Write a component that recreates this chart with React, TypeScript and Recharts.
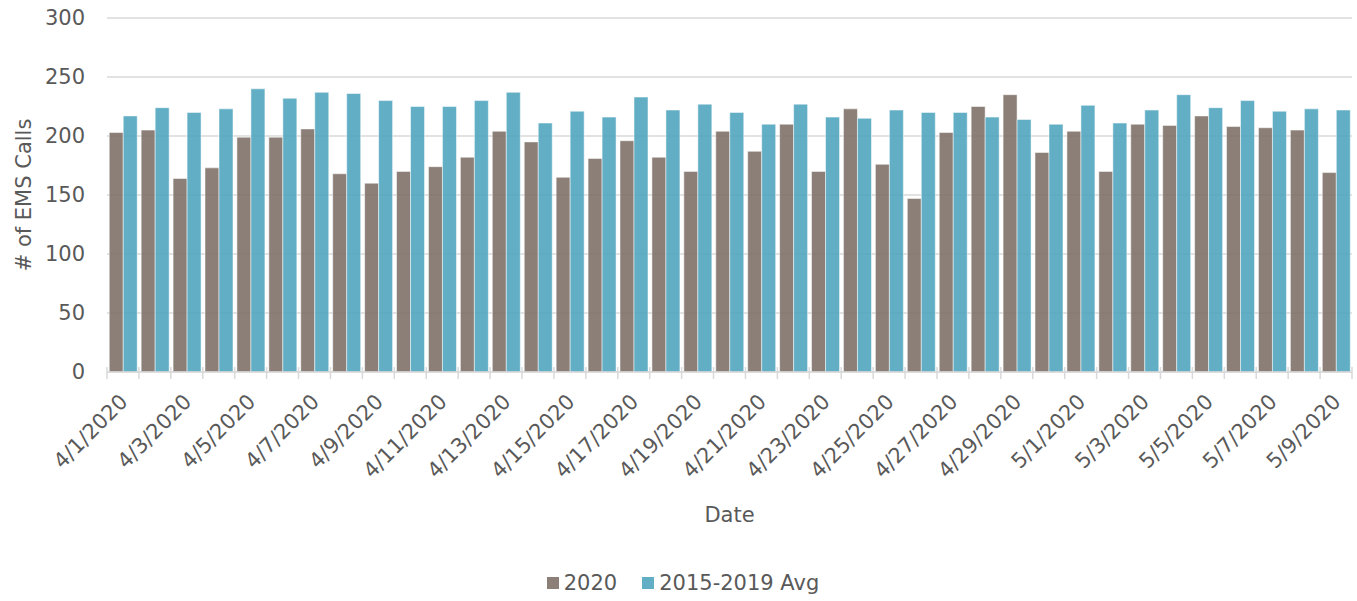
import React from 'react'
import { BarChart, Bar, XAxis, YAxis, CartesianGrid, Legend } from 'recharts'

// EMS calls per day, April 1 – May 9
const dates = [
  '4/1/2020', '4/2/2020', '4/3/2020', '4/4/2020', '4/5/2020', '4/6/2020', '4/7/2020', '4/8/2020',
  '4/9/2020', '4/10/2020', '4/11/2020', '4/12/2020', '4/13/2020', '4/14/2020', '4/15/2020',
  '4/16/2020', '4/17/2020', '4/18/2020', '4/19/2020', '4/20/2020', '4/21/2020', '4/22/2020',
  '4/23/2020', '4/24/2020', '4/25/2020', '4/26/2020', '4/27/2020', '4/28/2020', '4/29/2020',
  '4/30/2020', '5/1/2020', '5/2/2020', '5/3/2020', '5/4/2020', '5/5/2020', '5/6/2020',
  '5/7/2020', '5/8/2020', '5/9/2020',
]

const calls2020 = [
  203, 205, 164, 173, 199, 199, 206, 168, 160, 170, 174,
  182, 204, 195, 165, 181, 196, 182, 170, 204, 187, 210, 170, 223, 176,
  147, 203, 225, 235, 186, 204, 170, 210, 209, 217, 208, 207, 205, 169,
]

const callsAvg = [
  217, 224, 220, 223, 240, 232, 237, 236, 230, 225, 225,
  230, 237, 211, 221, 216, 233, 222, 227, 220, 210, 227, 216, 215, 222,
  220, 220, 216, 214, 210, 226, 211, 222, 235, 224, 230, 221, 223, 222,
]

const yTicks = [0, 50, 100, 150, 200, 250, 300]

const seriesNames = ['2020', '2015-2019 Avg']

const data = dates.map((date, i) => ({
  date,
  y2020: calls2020[i],
  avg: callsAvg[i],
}))

const W = 1357
const H = 601
const MARGIN = { top: 18, right: 5, left: 0, bottom: 0 }
const Y_AXIS_W = 107
const PITCH = (W - MARGIN.left - MARGIN.right - Y_AXIS_W) / dates.length

const FONT = '"DejaVu Sans", sans-serif'
const TEXT = '#595959'
const LINE = '#d9d9d9'
const GRAY = '#7e7168'
const BLUE = '#51a5bf'
const legendColors = ['#8b7f77', '#62aec5']

function DateTick(props: any) {
  const { x, y, payload, index } = props
  const half = PITCH / 2
  const ax = x + 6
  const ay = y + 31
  return (
    <g>
      <line x1={x - half} x2={x - half} y1={y - 5} y2={y + 7} stroke={LINE} strokeWidth={1.5} />
      {index === dates.length - 1 && (
        <line x1={x + half} x2={x + half} y1={y - 5} y2={y + 7} stroke={LINE} strokeWidth={1.5} />
      )}
      {index % 2 === 0 && (
        <text
          x={ax}
          y={ay}
          transform={`rotate(-45, ${ax}, ${ay})`}
          textAnchor="end"
          fill={TEXT}
          fontSize={21}
          fontFamily={FONT}
        >
          {payload.value}
        </text>
      )}
    </g>
  )
}

const renderLegend = () => (
  <div
    style={{
      display: 'flex',
      justifyContent: 'center',
      alignItems: 'center',
      height: 36,
      paddingLeft: 14,
      fontFamily: FONT,
      fontSize: 21,
      color: TEXT,
    }}
  >
    {seriesNames.map((name, i) => (
      <span key={name} style={{ display: 'flex', alignItems: 'center', marginRight: i === 0 ? 25 : 0 }}>
        <span style={{ width: 12, height: 12, background: legendColors[i], marginRight: 5 }} />
        {name}
      </span>
    ))}
  </div>
)

export default function App() {
  return (
    <div style={{ width: W, height: H, background: '#fff' }}>
      <style>{'body{margin:0}'}</style>
      <BarChart width={W} height={H} data={data} margin={MARGIN} barCategoryGap="7%" barGap={0}>
        <CartesianGrid vertical={false} stroke={LINE} strokeWidth={1.5} />
        <XAxis
          dataKey="date"
          interval={0}
          height={193}
          tickLine={false}
          tickSize={0}
          tickMargin={0}
          axisLine={{ stroke: LINE, strokeWidth: 1.5 }}
          tick={<DateTick />}
          label={(p: any) => {
            const vb = p.viewBox
            return (
              <text
                x={vb.x + vb.width / 2}
                y={522}
                textAnchor="middle"
                fill={TEXT}
                fontSize={21}
                fontFamily={FONT}
              >
                Date
              </text>
            )
          }}
        />
        <YAxis
          width={Y_AXIS_W}
          domain={[0, 300]}
          ticks={yTicks}
          axisLine={false}
          tickLine={false}
          tickSize={0}
          tickMargin={22}
          tick={{ fill: TEXT, fontSize: 21, fontFamily: FONT }}
          label={(p: any) => {
            const vb = p.viewBox
            const cx = 24
            const cy = vb.y + vb.height / 2
            return (
              <text
                x={cx}
                y={cy}
                transform={`rotate(-90, ${cx}, ${cy})`}
                textAnchor="middle"
                dominantBaseline="central"
                fill={TEXT}
                fontSize={21}
                fontFamily={FONT}
              >
                # of EMS Calls
              </text>
            )
          }}
        />
        <Legend verticalAlign="bottom" content={renderLegend} />
        <Bar
          dataKey="y2020"
          name={seriesNames[0]}
          fill={GRAY}
          fillOpacity={0.9}
          stroke="#ffffff"
          strokeOpacity={0.5}
          strokeWidth={1}
          isAnimationActive={false}
        />
        <Bar
          dataKey="avg"
          name={seriesNames[1]}
          fill={BLUE}
          fillOpacity={0.9}
          stroke="#ffffff"
          strokeOpacity={0.5}
          strokeWidth={1}
          isAnimationActive={false}
        />
      </BarChart>
    </div>
  )
}
